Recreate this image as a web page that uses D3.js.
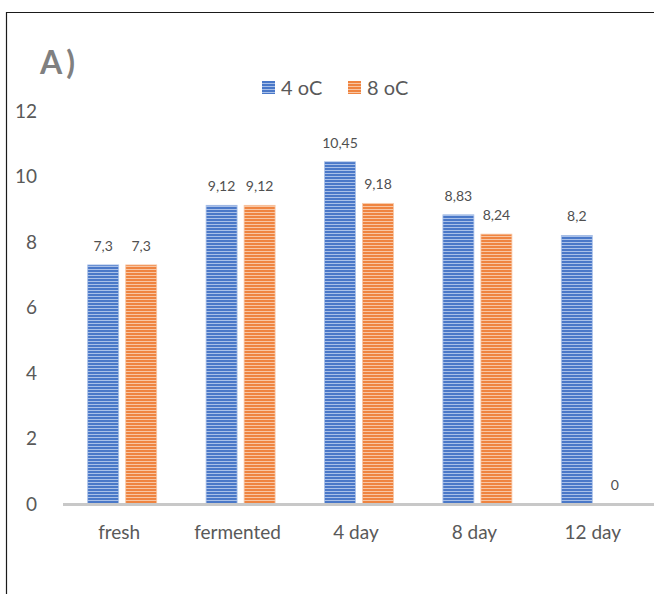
<!DOCTYPE html>
<html><head><meta charset="utf-8">
<script src="https://cdn.jsdelivr.net/npm/d3@7/dist/d3.min.js"></script>
<style>body{margin:0;background:#fff}svg{display:block}</style>
</head><body>
<script>
const categories = ["fresh", "fermented", "4 day", "8 day", "12 day"];
const series = ["4 oC", "8 oC"];
const values4 = [7.3, 9.12, 10.45, 8.83, 8.2];
const values8 = [7.3, 9.12, 9.18, 8.24, 0];
const labels4 = ["7,3", "9,12", "10,45", "8,83", "8,2"];
const labels8 = ["7,3", "9,12", "9,18", "8,24", "0"];
const yTicks = [0, 2, 4, 6, 8, 10, 12];
const colors = ["#4a78c8", "#ef8440"];
const lightColors = ["#a9c0e8", "#f8c6a4"];

const W = 654, H = 594;
const font = "Lato, 'Open Sans', sans-serif";
const svg = d3.select("body").append("svg").attr("width", W).attr("height", H);
const defs = svg.append("defs");
colors.forEach((c, i) => {
  const p = defs.append("pattern").attr("id", "pat" + i).attr("patternUnits", "userSpaceOnUse")
    .attr("width", 6).attr("height", 3);
  p.append("rect").attr("width", 6).attr("height", 3).attr("fill", c);
  p.append("rect").attr("y", 2).attr("width", 6).attr("height", 1).attr("fill", lightColors[i]);
});

// frame
svg.append("path").attr("d", `M6.5,${H}V12.5H${W}`).attr("fill", "none").attr("stroke", "#1a1a1a").attr("stroke-width", 1.2);

const x = d3.scaleBand().domain(categories).range([63, 655]).paddingInner(0).paddingOuter(0);
const y = d3.scaleLinear().domain([0, 12]).range([504, 111]);
const xs = d3.scaleBand().domain(series).range([0, 69]).paddingInner(0.185);

// y tick labels
svg.append("g").selectAll("text").data(yTicks).join("text")
  .attr("x", 37).attr("y", d => y(d)).attr("dy", "0.35em").attr("text-anchor", "end")
  .attr("font-family", font).attr("font-size", 19).attr("fill", "#595959").text(d => d);

const data = categories.map((c, i) => ({c, vals: [values4[i], values8[i]], labs: [labels4[i], labels8[i]]}));
const g = svg.append("g");
data.forEach(d => {
  const x0 = x(d.c) + x.bandwidth() / 2 - 34.5;
  series.forEach((s, j) => {
    const v = d.vals[j];
    const bx = x0 + xs(s);
    if (v > 0) {
      g.append("rect").attr("x", bx).attr("y", y(v)).attr("width", xs.bandwidth()).attr("height", y(0) - y(v))
        .attr("fill", `url(#pat${j})`).attr("stroke", lightColors[j]).attr("stroke-width", 0.8);
    }
    g.append("text").attr("x", bx + xs.bandwidth() / 2).attr("y", y(v) - 14)
      .attr("text-anchor", "middle").attr("font-family", font).attr("font-size", 14)
      .attr("fill", "#505050").text(d.labs[j]);
  });
});

// baseline
svg.append("line").attr("x1", 63).attr("x2", 655).attr("y1", y(0) + 0.5).attr("y2", y(0) + 0.5)
  .attr("stroke", "#c8c8c8").attr("stroke-width", 3);

// x labels
svg.append("g").selectAll("text").data(categories).join("text")
  .attr("x", d => x(d) + x.bandwidth() / 2 - 3).attr("y", 539).attr("text-anchor", "middle")
  .attr("font-family", font).attr("font-size", 19).attr("fill", "#595959").text(d => d);

// title
svg.append("text").attr("x", 40).attr("y", 74).attr("font-family", font).attr("font-size", 32)
  .attr("letter-spacing", 4).attr("font-weight", "bold").attr("fill", "#808080").text("A)");

// legend
const leg = svg.append("g");
const legX = [262, 348];
series.forEach((s, j) => {
  leg.append("rect").attr("x", legX[j]).attr("y", 81).attr("width", 13).attr("height", 13).attr("fill", `url(#pat${j})`);
  leg.append("text").attr("x", legX[j] + 19).attr("y", 88).attr("dy", "0.35em").attr("font-family", font)
    .attr("font-size", 20).attr("fill", "#595959").text(s);
});
</script>
</body></html>
